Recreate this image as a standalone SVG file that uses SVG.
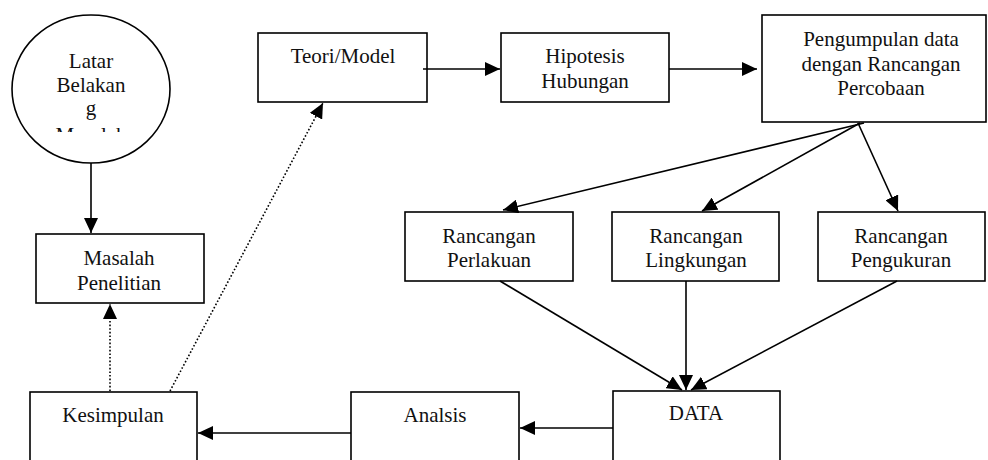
<svg xmlns="http://www.w3.org/2000/svg" width="988" height="460" viewBox="0 0 988 460">
<style>
.box{fill:#fff;stroke:#000;stroke-width:1.6}
.t{font-family:"Liberation Serif","Times New Roman","DejaVu Serif",serif;font-size:21px;fill:#111;text-anchor:middle}
.c{fill:none;stroke:#000;stroke-width:1.6}
.d{fill:none;stroke:#000;stroke-width:1.6;stroke-dasharray:1.6 2}
</style>
<defs>
<marker id="ah" markerUnits="userSpaceOnUse" markerWidth="15" markerHeight="14" refX="15" refY="7" orient="auto">
<path d="M0,0 L15,7 L0,14 Z" fill="#000"/>
</marker>
<clipPath id="cc"><rect x="0" y="0" width="200" height="132"/></clipPath>
</defs>
<rect width="988" height="460" fill="#fff"/>
<g id="latar">
<ellipse cx="91" cy="89" rx="79" ry="74" class="box"/>
<g clip-path="url(#cc)">
<text class="t" x="91" y="68">Latar</text>
<text class="t" x="91" y="92">Belakan</text>
<text class="t" x="91" y="115">g</text>
<text class="t" x="91" y="141.5">Masalah</text>
</g>
</g>
<g id="masalah">
<rect x="36" y="234" width="168" height="69" class="box"/>
<text class="t" x="119" y="265">Masalah</text>
<text class="t" x="119" y="290">Penelitian</text>
</g>
<g id="teori">
<rect x="258" y="33" width="169" height="69" class="box"/>
<text class="t" x="343" y="63">Teori/Model</text>
</g>
<g id="hipotesis">
<rect x="501" y="33" width="168" height="69" class="box"/>
<text class="t" x="585" y="63">Hipotesis</text>
<text class="t" x="585" y="88">Hubungan</text>
</g>
<g id="pengumpulan">
<rect x="762" y="15" width="224" height="107" class="box"/>
<text class="t" x="881" y="46">Pengumpulan data</text>
<text class="t" x="881" y="71">dengan Rancangan</text>
<text class="t" x="881" y="95">Percobaan</text>
</g>
<g id="perlakuan">
<rect x="405" y="212" width="168" height="69" class="box"/>
<text class="t" x="489" y="243">Rancangan</text>
<text class="t" x="489" y="267">Perlakuan</text>
</g>
<g id="lingkungan">
<rect x="612" y="212" width="167" height="69" class="box"/>
<text class="t" x="696" y="243">Rancangan</text>
<text class="t" x="696" y="267">Lingkungan</text>
</g>
<g id="pengukuran">
<rect x="818" y="212" width="167" height="69" class="box"/>
<text class="t" x="901" y="243">Rancangan</text>
<text class="t" x="901" y="267">Pengukuran</text>
</g>
<g id="data">
<rect x="613" y="391" width="167" height="80" class="box"/>
<text class="t" x="696" y="420">DATA</text>
</g>
<g id="analsis">
<rect x="351" y="392" width="168" height="80" class="box"/>
<text class="t" x="435" y="422">Analsis</text>
</g>
<g id="kesimpulan">
<rect x="30" y="392" width="167" height="80" class="box"/>
<text class="t" x="113" y="422">Kesimpulan</text>
</g>
<g id="connectors">
<line x1="91" y1="163" x2="91" y2="233" class="c" marker-end="url(#ah)"/>
<line x1="423" y1="69" x2="500" y2="69" class="c" marker-end="url(#ah)"/>
<line x1="669" y1="69" x2="757" y2="69" class="c" marker-end="url(#ah)"/>
<line x1="864" y1="123" x2="503" y2="210" class="c" marker-end="url(#ah)"/>
<line x1="860" y1="123" x2="702" y2="211" class="c" marker-end="url(#ah)"/>
<line x1="858" y1="123" x2="898" y2="211" class="c" marker-end="url(#ah)"/>
<line x1="500" y1="281" x2="682" y2="390" class="c" marker-end="url(#ah)"/>
<line x1="686" y1="281" x2="686" y2="390" class="c" marker-end="url(#ah)"/>
<line x1="897" y1="281" x2="691" y2="390" class="c" marker-end="url(#ah)"/>
<line x1="613" y1="428" x2="520" y2="428" class="c" marker-end="url(#ah)"/>
<line x1="351" y1="433" x2="198" y2="433" class="c" marker-end="url(#ah)"/>
<line x1="110" y1="391" x2="110" y2="304" class="d" marker-end="url(#ah)"/>
<line x1="170" y1="391" x2="323" y2="103" class="d" marker-end="url(#ah)"/>
</g>
</svg>
